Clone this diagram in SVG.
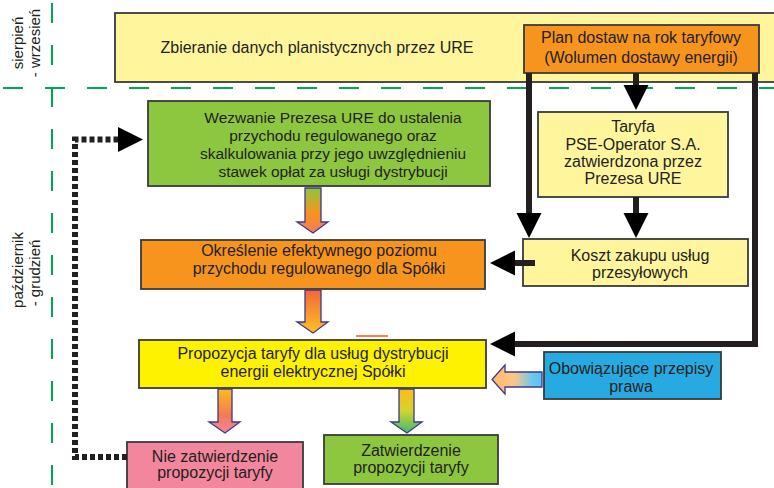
<svg xmlns="http://www.w3.org/2000/svg" width="774" height="488" viewBox="0 0 774 488">
<style>
text{font-family:"Liberation Sans",Arial,sans-serif;fill:#231F20;font-size:16px;text-anchor:middle}
.box{stroke:#3a3a3a;stroke-width:1.8}
.lbl{font-size:15px}
.conn{fill:none;stroke:#231F20;stroke-width:6}
.blk{stroke:#3B3A8C;stroke-width:1.3}
.guide{stroke:#00A651;stroke-width:2;stroke-dasharray:20 22;fill:none}
</style>
<defs>
<marker id="ah" markerUnits="userSpaceOnUse" markerWidth="26" markerHeight="26" refX="0" refY="12.5" orient="auto" overflow="visible">
<path d="M0,0 L25,12.5 L0,25 z" fill="#000"/>
</marker>
<linearGradient id="g1" x1="0" y1="0" x2="0" y2="1"><stop offset="0" stop-color="#8DC63F"/><stop offset="0.55" stop-color="#F7941E"/><stop offset="1" stop-color="#F47B5A"/></linearGradient>
<linearGradient id="g2" x1="0" y1="0" x2="0" y2="1"><stop offset="0" stop-color="#F1673A"/><stop offset="1" stop-color="#FFC222"/></linearGradient>
<linearGradient id="g3" x1="0" y1="0" x2="0" y2="1"><stop offset="0" stop-color="#FDBB1A"/><stop offset="0.6" stop-color="#F47A55"/><stop offset="1" stop-color="#F2869C"/></linearGradient>
<linearGradient id="g4" x1="0" y1="0" x2="0" y2="1"><stop offset="0" stop-color="#FDBB1A"/><stop offset="0.5" stop-color="#D2D52A"/><stop offset="1" stop-color="#3CB878"/></linearGradient>
<linearGradient id="g5" x1="0" y1="0" x2="1" y2="0"><stop offset="0" stop-color="#FCB96B"/><stop offset="0.45" stop-color="#FCC68A"/><stop offset="0.8" stop-color="#6DC8F0"/><stop offset="1" stop-color="#5BC0EB"/></linearGradient>
</defs>

<g id="guides">
<line class="guide" x1="3" y1="88" x2="774" y2="88"/>
<line class="guide" x1="52" y1="3" x2="52" y2="488"/>
</g>

<g id="period-labels">
<text class="lbl" transform="translate(23,43) rotate(-90)">sierpień</text>
<text class="lbl" transform="translate(40,43) rotate(-90)">- wrzesień</text>
<text class="lbl" transform="translate(23,270) rotate(-90)">październik</text>
<text class="lbl" transform="translate(40,273) rotate(-90)">- grudzień</text>
</g>

<g id="zbieranie">
<rect class="box" x="115" y="13" width="680" height="69" fill="#FFF59D"/>
<text x="317" y="53">Zbieranie danych planistycznych przez URE</text>
</g>

<g id="plan">
<rect class="box" x="524" y="25" width="235" height="48" fill="#F7941E"/>
<text x="641" y="43">Plan dostaw na rok taryfowy</text>
<text x="641" y="63">(Wolumen dostawy energii)</text>
</g>

<g id="wezwanie">
<rect class="box" x="148" y="101" width="342" height="85" fill="#8DC63F"/>
<text x="333" y="123" style="font-size:15.5px">Wezwanie Prezesa URE do ustalenia</text>
<text x="333" y="141" style="font-size:15.5px">przychodu regulowanego oraz</text>
<text x="333" y="159" style="font-size:15.5px">skalkulowania przy jego uwzględnieniu</text>
<text x="333" y="177" style="font-size:15.5px">stawek opłat za usługi dystrybucji</text>
</g>

<g id="taryfa">
<rect class="box" x="538" y="112" width="190" height="85" fill="#FFF59D"/>
<text x="633" y="132">Taryfa</text>
<text x="633" y="150">PSE-Operator S.A.</text>
<text x="633" y="167">zatwierdzona przez</text>
<text x="633" y="184">Prezesa URE</text>
</g>

<g id="okreslenie">
<rect class="box" x="141" y="240" width="344" height="49" fill="#F7941E"/>
<text x="319" y="256">Określenie efektywnego poziomu</text>
<text x="319" y="274">przychodu regulowanego dla Spółki</text>
</g>

<g id="koszt">
<rect class="box" x="523" y="239" width="225" height="47" fill="#FFF59D"/>
<text x="640" y="261">Koszt zakupu usług</text>
<text x="640" y="278">przesyłowych</text>
</g>

<g id="propozycja">
<rect class="box" x="139" y="340" width="347" height="48" fill="#FFF200"/>
<text x="313" y="359">Propozycja taryfy dla usług dystrybucji</text>
<text x="313" y="377">energii elektrycznej Spółki</text>
</g>

<g id="przepisy">
<rect class="box" x="544" y="352" width="177" height="47" fill="#27AAE1"/>
<text x="631" y="374">Obowiązujące przepisy</text>
<text x="631" y="392">prawa</text>
</g>

<g id="nie-zatwierdzenie">
<rect class="box" x="127" y="442" width="176" height="52" fill="#F2869C"/>
<text x="215" y="462">Nie zatwierdzenie</text>
<text x="215" y="478">propozycji taryfy</text>
</g>

<g id="zatwierdzenie">
<rect class="box" x="324" y="435" width="174" height="49" fill="#8DC63F"/>
<text x="411" y="456">Zatwierdzenie</text>
<text x="411" y="473">propozycji taryfy</text>
</g>

<g id="connectors">
<line class="conn" x1="636" y1="73" x2="636" y2="85" marker-end="url(#ah)"/>
<line class="conn" x1="636" y1="197" x2="636" y2="213" marker-end="url(#ah)"/>
<line class="conn" x1="529" y1="73" x2="529" y2="213" marker-end="url(#ah)"/>
<path class="conn" d="M755,73 V344 H515" marker-end="url(#ah)"/>
<line class="conn" x1="535" y1="263" x2="515" y2="263" marker-end="url(#ah)"/>
<path class="conn" d="M127,457 H75 V139.5 H118" stroke-dasharray="5 3" marker-end="url(#ah)"/>
<polygon class="blk" fill="url(#g1)" points="305,188 321,188 321,222 328,222 313,233 297,222 305,222"/>
<polygon class="blk" fill="url(#g2)" points="305,290 321,290 321,322 328,322 313,333 297,322 305,322"/>
<polygon class="blk" fill="url(#g3)" points="218,389 232,389 232,422 240,422 225,433 209,422 218,422"/>
<polygon class="blk" fill="url(#g4)" points="399,389 414,389 414,422 422,422 407,433 391,422 399,422"/>
<polygon class="blk" fill="url(#g5)" points="542,372 542,387 505,387 505,394 492,379.5 505,365 505,372"/>
<line x1="356" y1="336" x2="388" y2="336" stroke="#F26522" stroke-width="1.6"/>
</g>
</svg>
